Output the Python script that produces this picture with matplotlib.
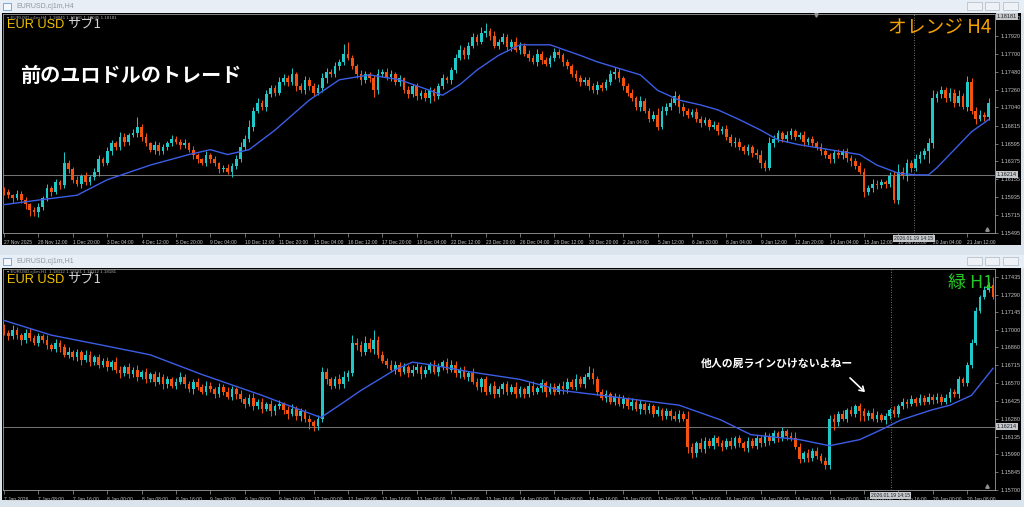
import matplotlib
matplotlib.use('Agg')
import matplotlib.pyplot as plt
from matplotlib.patches import Rectangle, FancyArrowPatch

# ---------------- data: top panel (EURUSD H4) ----------------
top_first_open = 1.1603
top_close = [
    1.1600, 1.1596, 1.1592, 1.1598, 1.1590, 1.1585, 1.1578, 1.1575,
    1.1582, 1.1592, 1.1605, 1.1600, 1.1612, 1.1608, 1.1635, 1.1628,
    1.1615, 1.1610, 1.1620, 1.1612, 1.1618, 1.1625, 1.1640, 1.1636,
    1.1650, 1.1660, 1.1655, 1.1668, 1.1662, 1.1670, 1.1672, 1.1680,
    1.1668, 1.1660, 1.1652, 1.1658, 1.1650, 1.1655, 1.1660, 1.1665,
    1.1662, 1.1658, 1.1660, 1.1652, 1.1645, 1.1640, 1.1636, 1.1645,
    1.1640, 1.1635, 1.1628, 1.1630, 1.1625, 1.1632, 1.1640, 1.1655,
    1.1665, 1.1680, 1.1700, 1.1710, 1.1705, 1.1720, 1.1728, 1.1722,
    1.1735, 1.1740, 1.1735, 1.1745, 1.1730, 1.1725, 1.1738, 1.1730,
    1.1722, 1.1728, 1.1740, 1.1748, 1.1745, 1.1755, 1.1760, 1.1770,
    1.1765, 1.1755, 1.1745, 1.1738, 1.1745, 1.1740, 1.1725, 1.1745,
    1.1748, 1.1742, 1.1745, 1.1735, 1.1740, 1.1725, 1.1720, 1.1730,
    1.1718, 1.1722, 1.1715, 1.1725, 1.1718, 1.1730, 1.1740, 1.1738,
    1.1750, 1.1765, 1.1775, 1.1768, 1.1780, 1.1790, 1.1785, 1.1795,
    1.1798, 1.1792, 1.1780, 1.1785, 1.1790, 1.1778, 1.1785, 1.1775,
    1.1780, 1.1770, 1.1765, 1.1760, 1.1770, 1.1762, 1.1758, 1.1765,
    1.1772, 1.1768, 1.1760, 1.1755, 1.1745, 1.1740, 1.1735, 1.1738,
    1.1730, 1.1725, 1.1732, 1.1728, 1.1735, 1.1745, 1.1748, 1.1740,
    1.1730, 1.1722, 1.1715, 1.1705, 1.1712, 1.1700, 1.1690, 1.1695,
    1.1680, 1.1700, 1.1705, 1.1710, 1.1718, 1.1705, 1.1700, 1.1695,
    1.1698, 1.1690, 1.1685, 1.1688, 1.1680, 1.1682, 1.1675, 1.1678,
    1.1668, 1.1660, 1.1662, 1.1655, 1.1650, 1.1655, 1.1648, 1.1645,
    1.1635, 1.1630, 1.1660, 1.1665, 1.1672, 1.1665, 1.1670, 1.1675,
    1.1668, 1.1670, 1.1662, 1.1665, 1.1660, 1.1655, 1.1650, 1.1645,
    1.1640, 1.1648, 1.1645, 1.1650, 1.1642, 1.1638, 1.1632, 1.1625,
    1.1600, 1.1605, 1.1610, 1.1608, 1.1612, 1.1610, 1.1620, 1.1590,
    1.1625, 1.1620, 1.1635, 1.1630, 1.1640, 1.1645, 1.1650, 1.1660,
    1.1715, 1.1720, 1.1725, 1.1715, 1.1722, 1.1710, 1.1718, 1.1705,
    1.1735, 1.1700, 1.1690, 1.1695, 1.1692, 1.1710,
]
# wick extents beyond the body, in pips
top_wick_up = [
    3, 4, 2, 5, 3, 4, 2, 3,  4, 3, 5, 2, 4, 3, 14, 4,  3, 5, 2, 4, 3, 4, 6, 3,
    5, 4, 3, 6, 4, 3, 5, 12,  3, 4, 2, 5, 3, 4, 3, 5,  4, 3, 5, 2, 4, 3, 2, 5,
    3, 4, 2, 3, 4, 3, 5, 6,  5, 8, 4, 6, 3, 5, 4, 3,  6, 5, 4, 7, 3, 4, 5, 3,
    4, 5, 6, 4, 3, 5, 4, 12,  14, 4, 3, 5, 4, 3, 4, 6,  3, 4, 5, 3, 4, 2, 5, 3,
    4, 3, 5, 4, 3, 4, 5, 3,  4, 5, 6, 3, 5, 6, 4, 8,  10, 4, 6, 3, 5, 4, 3, 5,
    4, 3, 5, 4, 6, 3, 4, 3,  5, 4, 3, 4, 3, 5, 4, 3,  3, 4, 5, 3, 4, 5, 6, 4,
    3, 4, 5, 3, 6, 4, 3, 4,  8, 6, 4, 5, 6, 3, 4, 3,  4, 5, 3, 4, 3, 5, 4, 3,
    4, 3, 5, 4, 3, 4, 3, 5,  6, 4, 8, 5, 4, 3, 5, 4,  3, 4, 5, 3, 4, 3, 5, 4,
    3, 4, 5, 3, 4, 3, 4, 5,  4, 3, 6, 5, 4, 3, 5, 6,  9, 6, 5, 4, 7, 5, 4, 6,
    10, 4, 5, 4, 6, 5, 8, 4,  8, 5, 4, 6, 3, 5,
]
top_wick_dn = [
    4, 3, 5, 2, 4, 6, 8, 5,  6, 4, 3, 5, 2, 4, 3, 5,  4, 3, 5, 3, 4, 3, 5, 4,
    3, 5, 4, 3, 5, 4, 3, 4,  5, 4, 3, 5, 4, 3, 4, 3,  3, 5, 4, 3, 4, 5, 3, 4,
    4, 3, 5, 4, 3, 6, 4, 3,  4, 3, 5, 3, 4, 6, 3, 4,  3, 4, 5, 4, 6, 3, 5, 4,
    4, 3, 5, 6, 4, 3, 5, 4,  3, 4, 5, 6, 4, 5, 8, 4,  3, 4, 6, 4, 5, 3, 4, 3,
    5, 4, 3, 5, 6, 4, 3, 4,  5, 4, 3, 4, 5, 3, 4, 3,  4, 5, 3, 4, 3, 5, 4, 3,
    5, 3, 4, 3, 5, 4, 3, 4,  4, 3, 5, 4, 3, 4, 5, 3,  4, 3, 5, 4, 3, 4, 6, 5,
    5, 4, 3, 4, 5, 3, 4, 3,  4, 3, 5, 4, 3, 8, 6, 4,  3, 4, 5, 3, 4, 3, 5, 4,
    4, 3, 5, 4, 3, 4, 5, 4,  6, 4, 3, 5, 4, 3, 4, 5,  4, 3, 5, 4, 3, 4, 5, 3,
    5, 4, 3, 4, 5, 6, 4, 3,  6, 4, 5, 4, 3, 5, 4, 4,  5, 4, 6, 5, 4, 5, 4, 14,
    6, 4, 5, 4, 3, 5, 4, 3,  5, 4, 6, 3, 5, 4,
]
top_ma_idx = [-0.5, 8, 17, 24, 34, 43, 48, 52, 57, 63, 71, 78, 85, 92, 99, 102,
              106, 110, 115, 120, 127, 134, 138, 143, 148, 152, 157, 162, 166,
              171, 176, 180, 185, 192, 199, 203, 208, 212, 215, 217, 221, 225, 229]
top_ma_val = [1.1584, 1.1590, 1.1596, 1.1615, 1.1633, 1.1646, 1.1652, 1.1646,
              1.1652, 1.1676, 1.1713, 1.1738, 1.1744, 1.1738, 1.1725, 1.1719,
              1.1732, 1.1750, 1.1768, 1.1781, 1.1781, 1.1768, 1.1760, 1.1752,
              1.1744, 1.1725, 1.1713, 1.1707, 1.1701, 1.1689, 1.1676, 1.1664,
              1.1658, 1.1652, 1.1646, 1.1633, 1.1623, 1.1621, 1.1621, 1.1630,
              1.1652, 1.1674, 1.1689]
top_xlabels = ["27 Nov 2025", "28 Nov 12:00", "1 Dec 20:00", "3 Dec 04:00",
               "4 Dec 12:00", "5 Dec 20:00", "9 Dec 04:00", "10 Dec 12:00",
               "11 Dec 20:00", "15 Dec 04:00", "16 Dec 12:00", "17 Dec 20:00",
               "19 Dec 04:00", "22 Dec 12:00", "23 Dec 20:00", "26 Dec 04:00",
               "29 Dec 12:00", "30 Dec 20:00", "2 Jan 04:00", "5 Jan 12:00",
               "6 Jan 20:00", "8 Jan 04:00", "9 Jan 12:00", "12 Jan 20:00",
               "14 Jan 04:00", "15 Jan 12:00", "16 Jan 20:00", "20 Jan 04:00",
               "21 Jan 12:00"]
top_yticks = [1.15495, 1.15715, 1.15935, 1.16155, 1.16375, 1.16595, 1.16815,
              1.17040, 1.17260, 1.17480, 1.17700, 1.17920, 1.18140]

# ---------------- data: bottom panel (EURUSD H1) ----------------
bot_first_open = 1.1702
bot_close = [
    1.1698, 1.1695, 1.1700, 1.1696, 1.1692, 1.1698, 1.1694, 1.1690,
    1.1695, 1.1692, 1.1688, 1.1685, 1.1690, 1.1686, 1.1680, 1.1682,
    1.1678, 1.1682, 1.1676, 1.1680, 1.1674, 1.1678, 1.1672, 1.1675,
    1.1670, 1.1674, 1.1668, 1.1665, 1.1670, 1.1664, 1.1668, 1.1662,
    1.1666, 1.1660, 1.1664, 1.1658, 1.1662, 1.1656, 1.1660, 1.1655,
    1.1658, 1.1662, 1.1656, 1.1652, 1.1658, 1.1654, 1.1650, 1.1655,
    1.1652, 1.1648, 1.1654, 1.1650, 1.1646, 1.1652, 1.1648, 1.1644,
    1.1640, 1.1645, 1.1638, 1.1642, 1.1636, 1.1640, 1.1634, 1.1638,
    1.1640, 1.1635, 1.1632, 1.1636, 1.1630, 1.1634, 1.1628, 1.1625,
    1.1622, 1.1628, 1.1666, 1.1660, 1.1655, 1.1660, 1.1656, 1.1662,
    1.1665, 1.1690, 1.1688, 1.1682, 1.1690, 1.1685, 1.1692, 1.1680,
    1.1675, 1.1672, 1.1668, 1.1672, 1.1666, 1.1670, 1.1665, 1.1668,
    1.1670, 1.1664, 1.1668, 1.1672, 1.1666, 1.1670, 1.1674, 1.1668,
    1.1672, 1.1665, 1.1668, 1.1662, 1.1665, 1.1658, 1.1654, 1.1660,
    1.1650, 1.1655, 1.1648, 1.1652, 1.1656, 1.1650, 1.1654, 1.1648,
    1.1652, 1.1648, 1.1655, 1.1650, 1.1653, 1.1657, 1.1650, 1.1654,
    1.1650, 1.1655, 1.1652, 1.1658, 1.1654, 1.1660, 1.1656, 1.1662,
    1.1665, 1.1660, 1.1650, 1.1645, 1.1648, 1.1642, 1.1646, 1.1640,
    1.1644, 1.1638, 1.1642, 1.1636, 1.1640, 1.1635, 1.1638, 1.1632,
    1.1635, 1.1630, 1.1634, 1.1630, 1.1628, 1.1632, 1.1628, 1.1605,
    1.1600, 1.1608, 1.1603, 1.1610, 1.1606, 1.1612, 1.1608, 1.1605,
    1.1610, 1.1606, 1.1612, 1.1608, 1.1604, 1.1610, 1.1606, 1.1612,
    1.1608, 1.1614, 1.1610, 1.1616, 1.1612, 1.1618, 1.1614, 1.1612,
    1.1605, 1.1595, 1.1600, 1.1596, 1.1602, 1.1598, 1.1594, 1.1590,
    1.1628, 1.1625, 1.1632, 1.1628, 1.1635, 1.1632, 1.1638, 1.1634,
    1.1630, 1.1633, 1.1628, 1.1631, 1.1627, 1.1630, 1.1635, 1.1632,
    1.1638, 1.1642, 1.1640, 1.1644, 1.1641, 1.1645, 1.1642, 1.1646,
    1.1643, 1.1646, 1.1642, 1.1645, 1.1650, 1.1648, 1.1660, 1.1657,
    1.1672, 1.1690, 1.1716, 1.1727, 1.1733, 1.1737, 1.1727,
]
bot_wick_up = [
    3, 2, 4, 3, 2, 3, 4, 2,  3, 2, 4, 2, 3, 2, 3, 4,  2, 3, 2, 4, 3, 2, 3, 2,
    3, 2, 4, 3, 2, 3, 2, 4,  2, 3, 2, 3, 4, 2, 3, 2,  3, 4, 2, 3, 2, 3, 2, 4,
    3, 2, 3, 2, 4, 3, 2, 3,  2, 3, 4, 2, 3, 2, 3, 2,  3, 2, 3, 4, 2, 3, 2, 3,
    2, 3, 4, 3, 2, 3, 4, 5,  3, 6, 4, 3, 5, 4, 8, 3,  3, 2, 4, 3, 2, 3, 2, 4,
    3, 2, 3, 2, 4, 3, 2, 3,  4, 3, 2, 3, 2, 4, 3, 2,  3, 2, 4, 3, 2, 3, 2, 4,
    3, 2, 3, 4, 2, 3, 2, 3,  3, 2, 4, 3, 2, 4, 3, 2,  6, 4, 3, 2, 3, 2, 3, 2,
    3, 2, 3, 2, 3, 2, 3, 2,  3, 2, 3, 2, 4, 3, 2, 6,  3, 2, 4, 3, 2, 3, 2, 3,
    2, 3, 2, 3, 2, 3, 2, 3,  2, 3, 2, 3, 2, 3, 2, 3,  5, 3, 2, 3, 2, 3, 2, 3,
    3, 4, 2, 3, 2, 3, 2, 3,  3, 2, 4, 3, 2, 3, 2, 3,  2, 3, 2, 3, 2, 3, 2, 3,
    2, 3, 2, 3, 3, 2, 3, 2,  2, 3, 3, 2, 3, 2, 6,
]
bot_wick_dn = [
    2, 3, 2, 3, 4, 2, 3, 2,  3, 2, 3, 2, 3, 4, 2, 3,  2, 3, 4, 2, 3, 2, 3, 2,
    3, 2, 3, 4, 2, 3, 2, 3,  2, 3, 2, 3, 2, 4, 3, 2,  3, 2, 3, 2, 4, 3, 2, 3,
    2, 3, 2, 3, 2, 3, 4, 2,  3, 2, 3, 2, 3, 2, 4, 3,  2, 3, 4, 2, 3, 4, 3, 5,
    4, 3, 3, 4, 3, 2, 4, 3,  3, 2, 4, 3, 2, 3, 4, 3,  2, 3, 2, 4, 3, 2, 3, 2,
    3, 4, 2, 3, 2, 3, 2, 3,  2, 3, 4, 2, 3, 2, 3, 4,  3, 2, 3, 2, 4, 3, 2, 3,
    2, 3, 2, 3, 2, 3, 4, 2,  3, 2, 4, 3, 2, 3, 2, 3,  2, 4, 3, 2, 3, 2, 3, 2,
    3, 2, 3, 2, 4, 3, 2, 3,  2, 3, 2, 3, 2, 3, 2, 5,  4, 3, 2, 3, 2, 3, 2, 3,
    2, 3, 2, 3, 2, 3, 2, 3,  3, 2, 3, 2, 3, 2, 3, 2,  2, 3, 2, 3, 2, 3, 2, 3,
    3, 6, 3, 2, 3, 2, 3, 8,  4, 3, 2, 3, 2, 3, 2, 3,  3, 2, 3, 2, 3, 2, 3, 2,
    3, 2, 3, 2, 3, 2, 3, 2,  2, 3, 2, 2, 2, 2, 2,
]
bot_ma_idx = [0, 11, 22.6, 34, 46, 60, 69, 73.7, 78, 83, 91, 95, 99, 108.6, 120,
              129.5, 139, 148, 157, 166.7, 173.7, 185, 192, 199, 204, 208.6,
              215.6, 220, 225, 230]
bot_ma_val = [1.1708, 1.1696, 1.1688, 1.1680, 1.1664, 1.1647, 1.1635, 1.1629,
              1.1639, 1.1651, 1.1668, 1.1674, 1.1672, 1.1666, 1.1660, 1.1651,
              1.1647, 1.1643, 1.1639, 1.1627, 1.1615, 1.1611, 1.1606, 1.1611,
              1.1619, 1.1627, 1.1635, 1.1639, 1.1647, 1.1669]
bot_xlabels = ["7 Jan 2026", "7 Jan 08:00", "7 Jan 16:00", "8 Jan 00:00",
               "8 Jan 08:00", "8 Jan 16:00", "9 Jan 00:00", "9 Jan 08:00",
               "9 Jan 16:00", "12 Jan 00:00", "12 Jan 08:00", "12 Jan 16:00",
               "13 Jan 00:00", "13 Jan 08:00", "13 Jan 16:00", "14 Jan 00:00",
               "14 Jan 08:00", "14 Jan 16:00", "15 Jan 00:00", "15 Jan 08:00",
               "15 Jan 16:00", "16 Jan 00:00", "16 Jan 08:00", "16 Jan 16:00",
               "19 Jan 00:00", "19 Jan 08:00", "19 Jan 16:00", "20 Jan 00:00",
               "20 Jan 08:00"]
bot_yticks = [1.15700, 1.15845, 1.15990, 1.16135, 1.16280, 1.16425, 1.16570,
              1.16715, 1.16860, 1.17000, 1.17145, 1.17290, 1.17435]

price_line = 1.16214
cursor_label = "2026.01.19 14:15"
top_cursor_bar = 211.6
bot_cursor_bar = 206.2

# ---------------- styling ----------------
W, H = 1024, 507
BULL = '#20c8c8'
BEAR = '#f5520f'
MA_C = '#3c5ee6'
AX_TXT = '#c4c4c4'
SMALL = ['Liberation Sans', 'DejaVu Sans']
JP = ['Noto Sans CJK JP', 'DejaVu Sans']
plt.rcParams['font.family'] = JP

fig = plt.figure(figsize=(W / 100, H / 100), dpi=100, facecolor='#dbe4ed')


def frect(x0, y0, x1, y1, fc, ec='none', lw=0):
    fig.add_artist(Rectangle((x0 / W, 1 - y1 / H), (x1 - x0) / W, (y1 - y0) / H,
                             transform=fig.transFigure, facecolor=fc,
                             edgecolor=ec, linewidth=lw, zorder=-10))


def ftext(x, y, s, **kw):
    fig.text(x / W, 1 - y / H, s, **kw)


def window(y0, y1, title):
    frect(0, y0, W, y0 + 13, '#e7eef5')
    frect(3, y0 + 3, 11, y0 + 10, '#f4f8fc', ec='#6f9ccc', lw=0.6)
    ftext(16, y0 + 6.5, title, fontsize=5, color='#8e98a4', va='center',
          family=SMALL)
    for bx0, bx1 in [(967, 982), (985, 999), (1003, 1018)]:
        frect(bx0, y0 + 2, bx1, y0 + 10, '#eef2f6', ec='#b8c2cc', lw=0.6)
    frect(2, y0 + 13, 1021, y1, 'black')


def panel(ytop, ybot, ylim, yticks, first_open, closes, wup, wdn, ma_idx, ma_val,
          xlabels, cursor_bar):
    ax = fig.add_axes([3 / W, 1 - ybot / H, (995 - 3) / W, (ybot - ytop) / H])
    ax.set_facecolor('black')
    n = len(closes)
    opens = [first_open] + closes[:-1]
    for i in range(n):
        o, c = opens[i], closes[i]
        col = BULL if c >= o else BEAR
        lo = min(o, c) - wdn[i] * 1e-4
        hi = max(o, c) + wup[i] * 1e-4
        ax.vlines(i, lo, hi, color=col, lw=0.7, zorder=3)
        h = max(abs(c - o), 0.00003)
        ax.bar(i, h, bottom=min(o, c), width=0.62, color=col, lw=0, zorder=4)
    ax.plot(ma_idx, ma_val, color=MA_C, lw=1.0, zorder=5)
    ax.axhline(price_line, color='#8a8a8a', lw=0.6, zorder=2)
    ax.axvline(cursor_bar, color='#9a9a9a', lw=0.6, ls=(0, (1, 2)), zorder=2)
    ax.set_xlim((3 - 4) / 4.3, (995 - 4) / 4.3)
    ax.set_ylim(*ylim)
    for s in ax.spines.values():
        s.set_color('#9c9c9c')
        s.set_linewidth(0.6)
    ax.yaxis.tick_right()
    ax.set_yticks(yticks)
    ax.set_yticklabels([f'{t:.5f}' for t in yticks], family=SMALL)
    ax.tick_params(axis='y', colors='#9c9c9c', labelcolor=AX_TXT, labelsize=4.0,
                   length=2.5, width=0.5, pad=1.2)
    ax.set_xticks([8 * k for k in range(len(xlabels))])
    ax.set_xticklabels(xlabels, ha='left', family=SMALL)
    ax.tick_params(axis='x', colors='#9c9c9c', labelcolor=AX_TXT, labelsize=3.5,
                   length=3, width=0.5, pad=1.8)
    ax.text(1.002, price_line, f'{price_line:.5f}', transform=ax.get_yaxis_transform(),
            fontsize=4.0, color='#202020', va='center', ha='left', clip_on=False,
            family=SMALL,
            bbox=dict(facecolor='#c4c8cc', edgecolor='none', pad=0.8), zorder=10)
    ax.text(cursor_bar, -0.014, cursor_label, transform=ax.get_xaxis_transform(),
            fontsize=3.6, color='#202020', va='top', ha='center', clip_on=False,
            family=SMALL,
            bbox=dict(facecolor='#c4c8cc', edgecolor='none', pad=0.9), zorder=10)
    ax.plot([0.992], [0.02], marker='^', ms=2.5, color='#909090',
            transform=ax.transAxes, clip_on=False)
    return ax


# ---------- top window ----------
window(0, 245, 'EURUSD,cj1m,H4')
ax1 = panel(14, 233, (1.15495, 1.18189), top_yticks, top_first_open, top_close,
            top_wick_up, top_wick_dn, top_ma_idx, top_ma_val, top_xlabels,
            top_cursor_bar)
ax1.plot([0.82], [0.995], marker='v', ms=2.5, color='#909090',
         transform=ax1.transAxes, clip_on=False)
ax1.text(1.002, 1.0, '1.18181', transform=ax1.transAxes, fontsize=4.0,
         color='#202020', va='top', ha='left', clip_on=False, family=SMALL,
         bbox=dict(facecolor='#c4c8cc', edgecolor='none', pad=0.8), zorder=10)

# ---------- bottom window ----------
window(255, 500, 'EURUSD,cj1m,H1')
ax2 = panel(269, 490, (1.15700, 1.17498), bot_yticks, bot_first_open, bot_close,
            bot_wick_up, bot_wick_dn, bot_ma_idx, bot_ma_val, bot_xlabels,
            bot_cursor_bar)

# ---------- overlay texts ----------
ftext(7, 17.5, '▾ EURUSD,cj1m,H4  1.18045 1.18181 1.18045 1.18181', fontsize=3.2,
      color='#a8a8a8', va='center', family=SMALL)
ftext(7, 272.5, '▾ EURUSD,cj1m,H1  1.18112 1.18181 1.18112 1.18181', fontsize=3.2,
      color='#a8a8a8', va='center', family=SMALL)
for yb in (28, 283):
    ftext(7, yb, 'EUR USD', fontsize=9.2, color='#f0c400', va='baseline',
          family=SMALL)
    ftext(67, yb, 'サブ1', fontsize=9.5, color='#d4d4d4', va='baseline')

ftext(20, 75, '前のユロドルのトレード', fontsize=14.5, color='white',
      fontweight='bold', va='center')
ftext(991, 28, 'オレンジ H4', fontsize=13.5, color='#f2a100', va='center', ha='right')
ftext(993, 283, '緑 H1', fontsize=13, color='#25c825', va='center', ha='right')
ftext(701, 364, '他人の屍ラインひけないよねー', fontsize=7.8, color='white',
      fontweight='bold', va='center')
fig.add_artist(FancyArrowPatch((848 / W, 1 - 376 / H), (867 / W, 1 - 394 / H),
                               transform=fig.transFigure,
                               arrowstyle='->,head_length=3,head_width=2',
                               color='white', lw=1.2))

fig.savefig('out.png', dpi=100, facecolor=fig.get_facecolor())
